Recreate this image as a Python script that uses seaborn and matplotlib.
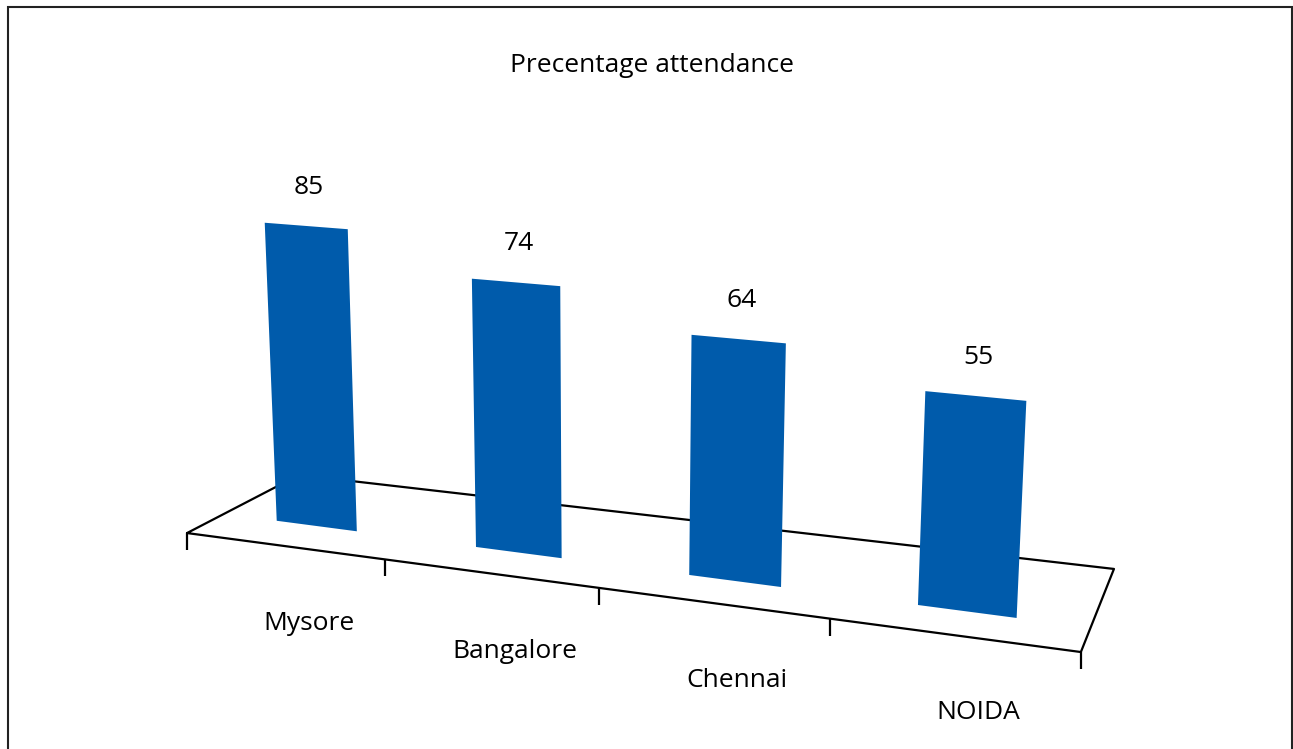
import numpy as np
import pandas as pd
import seaborn as sns
import matplotlib.pyplot as plt
import matplotlib.transforms as mtransforms
from matplotlib.patches import Rectangle

# data
cities = ['Mysore', 'Bangalore', 'Chennai', 'NOIDA']
attendance = [85, 74, 64, 55]
title = 'Precentage attendance'

W, H = 1293, 749
bar_color = '#005BAB'

sns.set_theme(style='white')
plt.rcParams['font.family'] = ['Open Sans', 'DejaVu Sans']
plt.rcParams['text.color'] = 'black'


#%% fake 3d: perspective maps from (category, value) / (category, depth) to picture pixels
class Persp(mtransforms.Transform):
    input_dims = 2
    output_dims = 2

    def __init__(self, f):
        super().__init__()
        self.f = f

    def transform_non_affine(self, xy):
        xy = np.asarray(xy, dtype=float).reshape(-1, 2)
        px, py = self.f(xy[:, 0], xy[:, 1])
        return np.column_stack([px, py])


def wall(u, v):
    # plane the bars stand in
    w = 1 - 0.033 * u
    x = (316.5 + 184.9 * u + v * (-0.124 + 0.088 * u)) / w
    y = (526 + 8.3 * u - 3.53 * v) / w
    return x, y


def floor(u, d):
    # d = 0 front edge, d = 1 back edge
    w = 1 - 0.037 * u
    fx, fy = (284.3 + 187.6 * u) / w, (546.0 + 6.17 * u) / w
    bx, by = (387.65 + 166.3 * u) / w, (485.2 + 2.875 * u) / w
    return fx + d * (bx - fx), fy + d * (by - fy)


fig = plt.figure(figsize=(W / 100, H / 100), dpi=100)
ax = fig.add_axes([0, 0, 1, 1])
ax.set_axis_off()

to_fig = mtransforms.Affine2D().scale(1 / W, -1 / H).translate(0, 1) + fig.transFigure
wall_t = Persp(wall) + to_fig
floor_t = Persp(floor) + to_fig

df = pd.DataFrame({'city': cities, 'pct': attendance})
sns.barplot(data=df, x='city', y='pct', color=bar_color, saturation=1,
            width=0.41, linewidth=0, ax=ax, zorder=2)
for p in ax.patches:
    p.set_transform(wall_t)
    p.set_clip_on(False)

# floor outline + ticks
n = len(cities)
ax.plot([-0.5, n - 0.5, n - 0.5, -0.5, -0.5], [0, 0, 1, 1, 0], transform=floor_t,
        color='black', lw=1.6, zorder=1, clip_on=False)
ax.plot(np.arange(n + 1) - 0.5, np.zeros(n + 1), transform=floor_t, ls='none',
        marker=3, markersize=12.5, markeredgewidth=1.6, color='black', clip_on=False)

# labels
for i, (c, v) in enumerate(zip(cities, attendance)):
    ax.annotate(str(v), xy=(i, v), xycoords=wall_t, xytext=(2, 28),
                textcoords='offset points', ha='center', va='center', fontsize=19)
    ax.annotate(c, xy=(i, 0), xycoords=floor_t, xytext=(18, -56),
                textcoords='offset points', ha='center', va='center', fontsize=19)

fig.text(651.5 / W, 1 - 65 / H, title, ha='center', va='center', fontsize=19)

# outer frame
fig.patches.append(Rectangle((8 / W, -0.05), (1291.5 - 8) / W, 1.05 - 7 / H,
                             transform=fig.transFigure, fill=False,
                             edgecolor='#222222', lw=1.5))

plt.savefig('out.png', dpi=100)
